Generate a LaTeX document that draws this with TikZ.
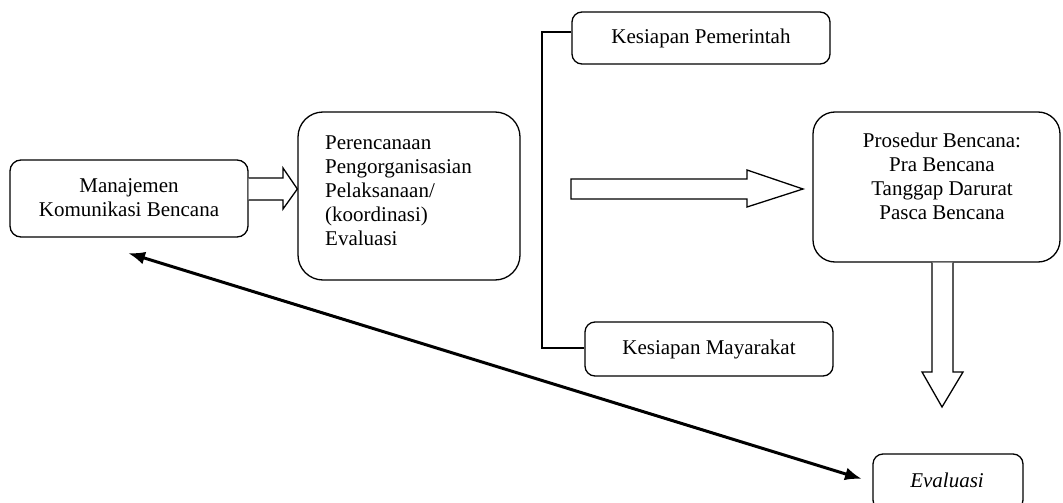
\documentclass[tikz,border=0pt]{standalone}
\usepackage{fontspec}
\setmainfont{Liberation Serif}
\usetikzlibrary{arrows.meta}
\begin{document}
\begin{tikzpicture}[x=1pt,y=-1pt,
  box/.style={draw, line width=1.3pt, inner sep=0pt},
  txt/.style={font=\fontsize{21}{24}\selectfont, inner sep=0pt},
  hollow/.style={draw, line width=1.3pt, fill=white, line join=miter},
  link/.style={draw, line width=1.3pt},
  dbl/.style={line width=3pt, {Latex[length=17pt,width=13pt]}-{Latex[length=17pt,width=13pt]}}]
\useasboundingbox (0,0) rectangle (1063,503);
\clip (0,0) rectangle (1063,503);
% boxes
\node[box, rounded corners=11pt, minimum width=238pt, minimum height=77pt] (m) at (129,198.5) {};
\node[txt, align=center] (mt) at (129,198) {Manajemen\\Komunikasi Bencana};
\node[box, rounded corners=25pt, minimum width=222pt, minimum height=168pt] (p) at (409,196) {};
\node[txt, align=left, anchor=north west] (pt) at (325,136) {Perencanaan\\Pengorganisasian\\Pelaksanaan/\\(koordinasi)\\Evaluasi};
\node[box, rounded corners=10pt, minimum width=258pt, minimum height=52pt] (kp) at (701,38) {};
\node[txt] (kpt) at (701,38) {Kesiapan Pemerintah};
\node[box, rounded corners=10pt, minimum width=248pt, minimum height=54pt] (km) at (709,349) {};
\node[txt] (kmt) at (709,349) {Kesiapan Mayarakat};
\node[box, rounded corners=22pt, minimum width=247pt, minimum height=150pt] (pr) at (936.5,187) {};
\node[txt, align=center, anchor=north] (prt) at (942,133) {Prosedur Bencana:\\Pra Bencana\\Tanggap Darurat\\Pasca Bencana};
\node[box, rounded corners=10pt, minimum width=150pt, minimum height=56pt] (ev) at (948,482) {};
\node[txt, font=\fontsize{21}{24}\selectfont\itshape] (evt) at (947,480) {Evaluasi};
% bracket
\coordinate (bt) at (542,32);
\coordinate (bb) at (542,348);
\draw[link] (kp.west |- bt) -- (bt) -- (bb) -- (km.west |- bb);
% hollow arrows
\draw[hollow] (m.east |- 0,178) -- (283,178) -- (283,168) -- (p.west |- 0,189) -- (283,209) -- (283,200) -- (m.east |- 0,200);
\draw[hollow] (571,179) -- (747,179) -- (747,170) -- (803,189) -- (747,207) -- (747,199) -- (571,199) -- cycle;
\draw[hollow] (932,1 |- pr.south) -- (932,372) -- (922,372) -- (942,407) -- (963,372) -- (953,372) -- (953,1 |- pr.south);
% double arrow
\coordinate (a1) at (128,253);
\coordinate (a2) at (862,479);
\draw[dbl] (a1) -- (a2);
\end{tikzpicture}
\end{document}
